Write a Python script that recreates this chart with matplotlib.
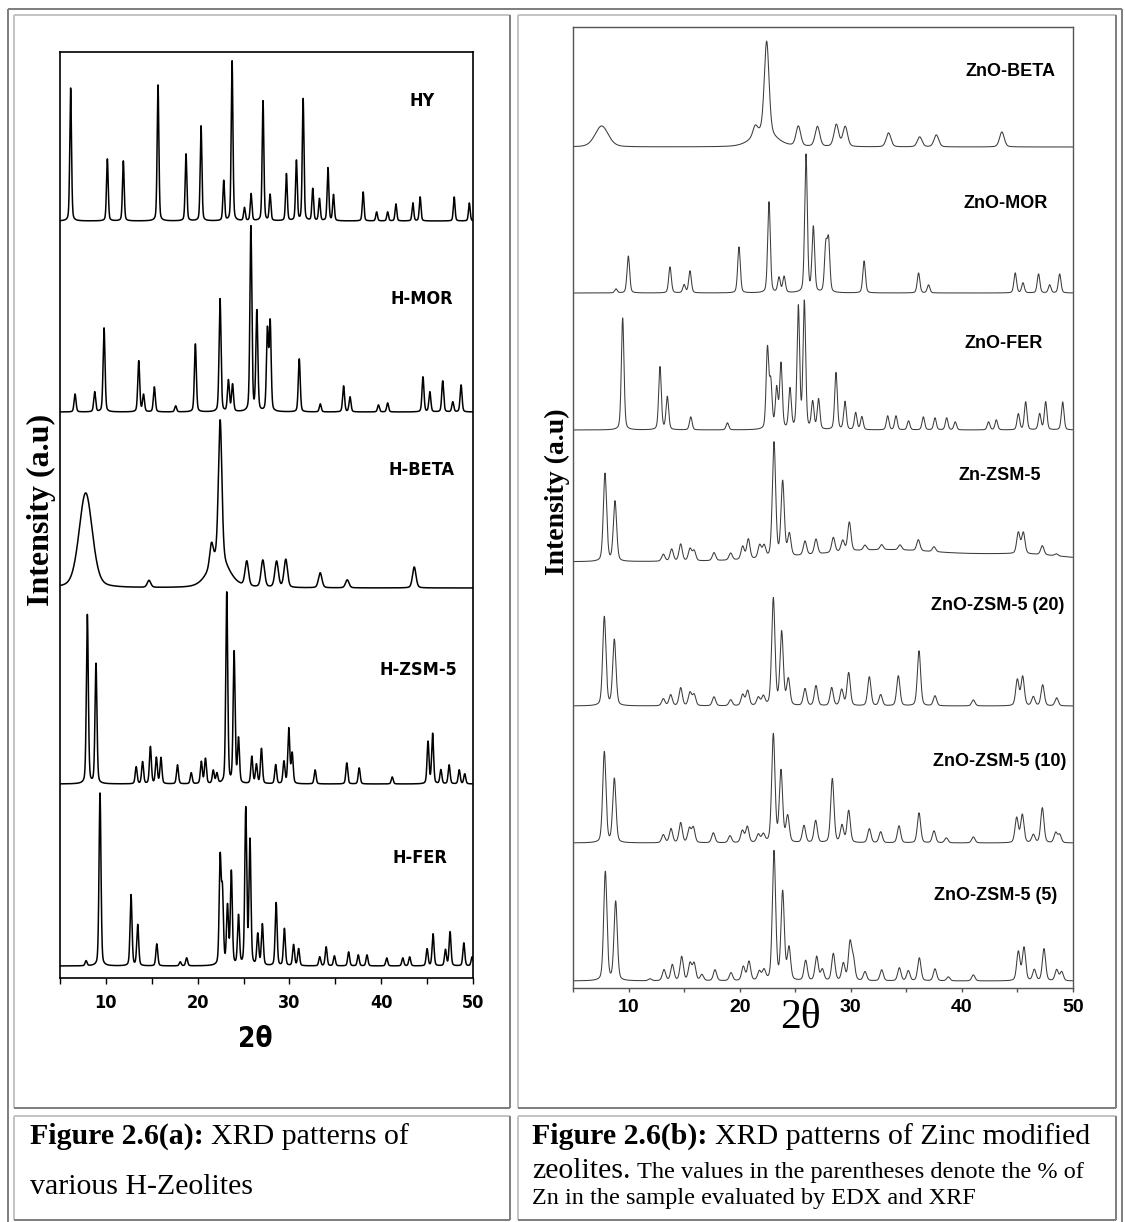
import numpy as np
import matplotlib
matplotlib.use("Agg")
import matplotlib.pyplot as plt
from matplotlib.lines import Line2D
from matplotlib.ticker import FixedLocator, MultipleLocator
from matplotlib import font_manager as fm

# ---------------- data (2-theta positions, intensities in a.u.) ----------------
# Panel (a): H-zeolites
HY_pos = [6.16, 10.16, 11.9, 15.68, 18.73, 20.37, 22.84, 23.75, 25.1, 25.82, 27.12, 27.89, 29.67,
          30.76, 31.49, 32.54, 33.27, 34.2, 34.8, 38.03, 39.5, 40.7, 41.6, 43.45, 44.24, 47.95, 49.6]
HY_int = [133, 62, 60, 136, 67, 95, 40, 160, 13, 27, 120, 26, 47,
          60, 122, 32, 22, 53, 26, 29, 9, 9, 17, 18, 24, 24, 18]

MOR_pos = [6.64, 8.78, 9.8, 13.58, 14.1, 15.28, 17.6, 19.75, 22.44, 23.35, 23.8, 25.8, 26.45,
           27.6, 27.9, 31.07, 33.36, 35.9, 36.6, 39.7, 40.7, 44.55, 45.3, 46.7, 47.8, 48.7]
MOR_int = [18, 20, 84, 51, 17, 25, 6, 68, 113, 31, 27, 185, 100,
           80, 88, 53, 8, 26, 15, 7, 9, 35, 20, 31, 10, 27]

BETA_pos = [14.7, 21.5, 22.45, 25.35, 27.1, 28.6, 29.6, 33.35, 36.3, 43.6]
BETA_int = [7, 22, 140, 25, 27, 26, 28, 15, 8, 21]
BETA_broad_pos = [7.8, 22.3]
BETA_broad_int = [95, 28]
BETA_broad_fwhm = [1.7, 2.6]

ZSM_pos = [7.98, 8.92, 13.3, 14.0, 14.85, 15.5, 16.0, 17.8, 19.3, 20.4, 20.85, 21.7, 22.1, 23.17,
           23.97, 24.45, 25.9, 26.4, 26.95, 28.5, 29.4, 29.93, 30.3, 32.8, 36.25, 37.6, 41.2, 45.1,
           45.6, 46.5, 47.4, 48.5, 49.1]
ZSM_int = [169, 120, 17, 22, 37, 26, 26, 19, 11, 22, 25, 13, 10, 191,
           131, 44, 27, 19, 35, 19, 22, 55, 30, 14, 21, 16, 7, 42,
           50, 14, 19, 14, 10]

FER_pos = [7.84, 9.36, 12.74, 13.47, 15.55, 18.1, 18.8, 22.45, 22.7, 23.25, 23.67, 24.45, 25.24,
           25.7, 26.55, 27.05, 28.55, 29.45, 30.45, 31.0, 33.3, 34.0, 34.9, 36.45, 37.5, 38.45,
           40.6, 42.35, 43.1, 45.0, 45.65, 47.0, 47.5, 49.0, 49.9]
FER_int = [5, 173, 71, 41, 22, 4, 8, 105, 70, 58, 93, 49, 156,
           124, 31, 41, 63, 37, 21, 17, 9, 19, 10, 14, 11, 11,
           8, 8, 9, 17, 32, 16, 34, 23, 9]

labels_a = ["HY", "H-MOR", "H-BETA", "H-ZSM-5", "H-FER"]
offsets_a = [757, 566, 390, 194, 12]

# Panel (b): zinc modified zeolites
ZBETA_pos = [21.4, 22.43, 25.28, 27.0, 28.7, 29.5, 33.4, 36.2, 37.7, 43.6]
ZBETA_int = [10, 92, 20, 20, 22, 20, 14, 10, 12, 15]
ZBETA_broad_pos = [7.58, 22.2]
ZBETA_broad_int = [21, 14]
ZBETA_broad_fwhm = [1.4, 2.5]

ZMOR_pos = [8.87, 9.98, 13.73, 15.0, 15.53, 19.94, 22.64, 23.54, 24.0, 25.97, 26.63, 27.75, 28.0,
            31.2, 36.1, 37.0, 44.8, 45.5, 46.9, 47.9, 48.8]
ZMOR_int = [4, 37, 26, 8, 22, 46, 91, 15, 16, 138, 65, 45, 50,
            32, 20, 8, 20, 10, 19, 8, 19]

ZFER_pos = [9.47, 12.83, 13.49, 15.6, 18.9, 22.5, 22.8, 23.33, 23.72, 24.53, 25.28, 25.82, 26.57,
            27.1, 28.67, 29.48, 30.44, 31.0, 33.32, 34.07, 35.2, 36.53, 37.58, 38.63, 39.4, 42.4,
            43.1, 45.08, 45.74, 47.0, 47.54, 49.07]
ZFER_int = [112, 63, 33, 13, 7, 80, 45, 40, 65, 40, 122, 127, 27,
            30, 57, 28, 17, 13, 14, 14, 9, 13, 12, 12, 8, 8,
            10, 16, 28, 16, 28, 28]

ZZSM_pos = [7.88, 8.78, 13.13, 13.88, 14.69, 15.53, 15.9, 17.69, 19.19, 20.27, 20.78, 21.8, 22.2,
            23.09, 23.87, 24.47, 25.88, 26.87, 28.43, 29.27, 29.87, 31.28, 32.78, 34.43, 36.08,
            37.49, 45.08, 45.53, 47.24, 48.5]
ZZSM_int = [88, 60, 7, 12, 17, 12, 10, 8, 7, 13, 20, 13, 12,
            115, 75, 22, 14, 15, 15, 11, 29, 5, 5, 5, 11,
            5, 21, 21, 9, 2]
ZZSM_broad_pos = [33.0, 46.0]
ZZSM_broad_int = [12, 6]
ZZSM_broad_fwhm = [15.0, 10.0]

Z20_pos = [7.82, 8.72, 13.13, 13.79, 14.69, 15.53, 15.9, 17.69, 19.19, 20.27, 20.72, 21.68, 22.13,
           23.03, 23.78, 24.38, 25.88, 26.87, 28.28, 29.18, 29.81, 31.67, 32.69, 34.28, 36.14,
           37.58, 41.03, 44.99, 45.47, 46.43, 47.27, 48.53]
Z20_int = [89, 66, 7, 11, 18, 13, 11, 9, 6, 11, 15, 8, 9,
           107, 73, 26, 17, 20, 18, 16, 33, 29, 11, 30, 55,
           10, 6, 26, 29, 9, 21, 8]

Z10_pos = [7.82, 8.72, 13.13, 13.82, 14.69, 15.47, 15.83, 17.63, 19.13, 20.24, 20.69, 21.68, 22.13,
           23.03, 23.72, 24.32, 25.79, 26.84, 28.34, 29.21, 29.81, 31.67, 32.69, 34.34, 36.14,
           37.49, 38.6, 41.03, 44.93, 45.44, 46.43, 47.24, 48.44, 48.8]
Z10_int = [91, 64, 8, 14, 20, 14, 15, 10, 7, 12, 16, 8, 8,
           108, 71, 26, 17, 22, 64, 17, 32, 14, 11, 17, 30,
           12, 5, 6, 25, 28, 8, 35, 10, 8]

Z5_pos = [7.91, 8.84, 11.93, 13.19, 13.94, 14.78, 15.53, 15.9, 16.6, 17.78, 19.22, 20.33, 20.84,
          21.77, 22.19, 23.09, 23.87, 24.44, 25.94, 26.93, 27.44, 28.43, 29.33, 29.93, 30.23,
          31.28, 32.78, 34.37, 35.18, 36.17, 37.58, 38.78, 41.03, 45.08, 45.59, 46.52, 47.39,
          48.53, 48.98]
Z5_int = [109, 79, 2, 11, 16, 24, 17, 17, 6, 11, 8, 14, 19,
          9, 10, 129, 88, 32, 20, 24, 11, 27, 17, 37, 20,
          9, 11, 13, 10, 23, 12, 4, 6, 29, 33, 11, 32,
          11, 9]

labels_b = ["ZnO-BETA", "ZnO-MOR", "ZnO-FER", "Zn-ZSM-5",
            "ZnO-ZSM-5 (20)", "ZnO-ZSM-5 (10)", "ZnO-ZSM-5 (5)"]
offsets_b = [841, 695, 558, 426, 282, 145, 7]

xticks = [10, 20, 30, 40, 50]

# ---------------- figure ----------------
W, H = 1125, 1222
fig = plt.figure(figsize=(W / 100, H / 100), dpi=100)
fig.patch.set_facecolor("white")

ax_a = fig.add_axes([60 / W, 1 - 978 / H, 413 / W, 926 / H])
ax_b = fig.add_axes([573 / W, 1 - 988 / H, 500 / W, 961 / H])

x = np.linspace(5, 50, 6000)


def profile(pos, amp, fwhm, eta=0.3):
    y = np.zeros_like(x)
    for p, a, w in zip(pos, amp, fwhm):
        d = ((x - p) / (w / 2.0)) ** 2
        y += a * (eta / (1 + d) + (1 - eta) * np.exp(-np.log(2) * d))
    return y


def w(lst, val):
    return [val] * len(lst)


traces_a = [
    profile(HY_pos, HY_int, w(HY_pos, 0.22)),
    profile(MOR_pos, MOR_int, w(MOR_pos, 0.25)),
    profile(BETA_pos, BETA_int, w(BETA_pos, 0.45)) + profile(BETA_broad_pos, BETA_broad_int, BETA_broad_fwhm),
    profile(ZSM_pos, ZSM_int, w(ZSM_pos, 0.25)),
    profile(FER_pos, FER_int, w(FER_pos, 0.25)),
]
traces_b = [
    profile(ZBETA_pos, ZBETA_int, w(ZBETA_pos, 0.5)) + profile(ZBETA_broad_pos, ZBETA_broad_int, ZBETA_broad_fwhm),
    profile(ZMOR_pos, ZMOR_int, w(ZMOR_pos, 0.28)),
    profile(ZFER_pos, ZFER_int, w(ZFER_pos, 0.28)),
    profile(ZZSM_pos, ZZSM_int, w(ZZSM_pos, 0.35)) + profile(ZZSM_broad_pos, ZZSM_broad_int, ZZSM_broad_fwhm),
    profile(Z20_pos, Z20_int, w(Z20_pos, 0.35)),
    profile(Z10_pos, Z10_int, w(Z10_pos, 0.35)),
    profile(Z5_pos, Z5_int, w(Z5_pos, 0.35)),
]

for off, tr in zip(offsets_a, traces_a):
    ax_a.plot(x, off + tr, color="black", lw=1.1)
for off, tr in zip(offsets_b, traces_b):
    ax_b.plot(x, off + tr, color="#3c3c3c", lw=0.75)

# condensed bold sans for panel (a) texts, if a condensed face is available
cond_names = {f.name for f in fm.fontManager.ttflist if "condensed" in str(f.stretch).lower()
              or "Narrow" in f.name or "Condensed" in f.fname}
if "Liberation Sans Narrow" in {f.name for f in fm.fontManager.ttflist}:
    narrow_kw = dict(family=["Liberation Sans Narrow", "DejaVu Sans"])
elif any("DejaVuSansCondensed-Bold" in f.fname for f in fm.fontManager.ttflist):
    narrow_kw = dict(family=["DejaVu Sans"], fontstretch="condensed")
else:
    narrow_kw = dict(family=["Liberation Sans", "DejaVu Sans"])

sans = ["Liberation Sans", "DejaVu Sans"]
serif = ["Liberation Serif", "DejaVu Serif"]

# label placement (2-theta, intensity units)
label_xy_a = [(44.45, 877), (44.45, 679), (44.35, 508), (44.0, 308), (44.2, 120)]
label_xy_b = [(44.33, 916), (43.97, 785), (43.8, 645), (43.43, 512), (43.25, 383), (43.43, 226), (43.0, 93)]
for lab, (lx, ly) in zip(labels_a, label_xy_a):
    ax_a.text(lx, ly, lab, ha="center", va="center", fontsize=13, fontweight="bold", **narrow_kw)
for lab, (lx, ly) in zip(labels_b, label_xy_b):
    ax_b.text(lx, ly, lab, ha="center", va="center", fontsize=13, fontweight="bold", family=sans)

for ax, ymax, scol, slw, tlen, pad, fs, kw in [(ax_a, 926, "black", 1.2, 4.5, 7.0, 13, narrow_kw),
                                                (ax_b, 961, "#555555", 1.0, 3.0, 5.0, 14, dict(family=sans))]:
    ax.set_xlim(5, 50)
    ax.set_ylim(0, ymax)
    ax.set_yticks([])
    ax.xaxis.set_major_locator(FixedLocator(xticks))
    ax.xaxis.set_minor_locator(MultipleLocator(5))
    ax.tick_params(axis="x", which="both", direction="out", length=tlen, width=1.0,
                   color=scol, pad=pad, labelsize=fs)
    for sp in ax.spines.values():
        sp.set_color(scol)
        sp.set_linewidth(slw)
    for lbl in ax.get_xticklabels():
        lbl.set_fontfamily(kw["family"])
        if "fontstretch" in kw:
            lbl.set_fontstretch(kw["fontstretch"])
        lbl.set_fontweight("bold")

ax_a.set_xlabel("2θ", fontsize=20, fontweight="bold", va="center", **narrow_kw)
ax_a.xaxis.set_label_coords(0.472, -0.066)
ax_a.set_ylabel("Intensity (a.u)", fontsize=23, fontweight="bold", family=serif, va="center")
ax_a.yaxis.set_label_coords(-0.044, 0.505)

ax_b.set_xlabel("2θ", fontsize=30, family=serif, va="center")
ax_b.xaxis.set_label_coords(0.454, -0.031)
ax_b.set_ylabel("Intensity (a.u)", fontsize=20, fontweight="bold", family=serif, va="center")
ax_b.yaxis.set_label_coords(-0.032, 0.516)


# ---------------- table frame ----------------
def seg(x0, y0, x1, y1, color, lw=1.44):
    fig.add_artist(Line2D([x0 / W, x1 / W], [1 - y0 / H, 1 - y1 / H], color=color, lw=lw,
                          transform=fig.transFigure, solid_capstyle="butt"))


dark, light = "#808080", "#c4c4c4"
seg(8, 9, 1122, 9, dark)
seg(8, 9, 8, 1222, dark)
seg(1122, 9, 1122, 1222, dark)


def cell(x0, y0, x1, y1):
    seg(x0, y0, x1, y0, light)
    seg(x0, y0, x0, y1, light)
    seg(x0, y1, x1, y1, dark)
    seg(x1, y0, x1, y1, dark)


cell(14, 15, 510, 1108)
cell(518, 15, 1116, 1108)
cell(14, 1116, 510, 1220)
cell(518, 1116, 1116, 1220)

# ---------------- captions ----------------
renderer = fig.canvas.get_renderer()


def runs(px, py, parts):
    x0 = px
    for txt, size, weight in parts:
        if txt == " ":
            x0 += 0.25 * size * 100 / 72
            continue
        t = fig.text(x0 / W, 1 - py / H, txt, fontsize=size, fontweight=weight, family=serif,
                     ha="left", va="baseline")
        x0 += t.get_window_extent(renderer=renderer).width


CS, SS = 21.5, 17.5
runs(30, 1144, [("Figure 2.6(a):", CS, "bold"), (" ", CS, "normal"), ("XRD patterns of", CS, "normal")])
runs(30, 1194, [("various H-Zeolites", CS, "normal")])
runs(532, 1144, [("Figure 2.6(b):", CS, "bold"), (" ", CS, "normal"),
                 ("XRD patterns of Zinc modified", CS, "normal")])
runs(532, 1178, [("zeolites.", CS, "normal"), (" ", SS, "normal"),
                 ("The values in the parentheses denote the % of", SS, "normal")])
runs(532, 1204, [("Zn in the sample evaluated by EDX and XRF", SS, "normal")])

fig.savefig("out.png", dpi=100, facecolor="white")
